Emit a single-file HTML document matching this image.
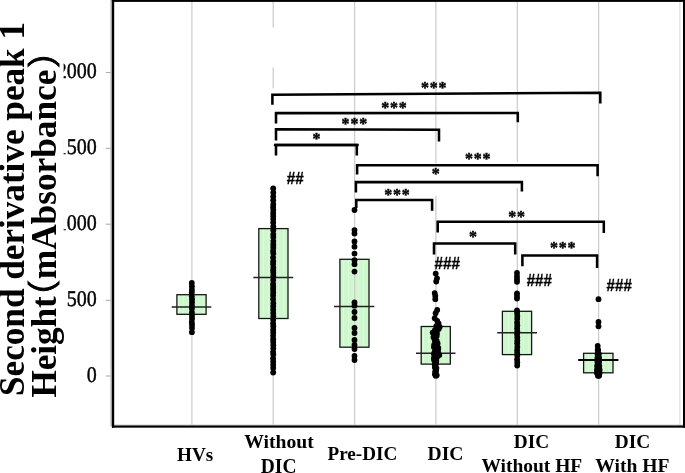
<!DOCTYPE html>
<html lang="en"><head><meta charset="utf-8"><title>Second derivative peak 1 height</title>
<style>html,body{margin:0;padding:0;background:#fff;}body{width:685px;height:473px;overflow:hidden;}svg{display:block;}text{font-family:"Liberation Serif","Noto Serif CJK SC",serif;fill:#000;}.b{font-weight:bold;}.pr{font-family:IPAGothic,"Noto Sans CJK JP",sans-serif;stroke:#000;stroke-width:1.0px;}.tk{stroke:#000;stroke-width:0.4px;text-rendering:geometricPrecision;}.hs{font-family:"Liberation Sans",sans-serif;stroke:#000;stroke-width:0.3px;}.st{stroke:#000;stroke-width:0.42px;stroke-linejoin:round;}</style></head><body>
<svg width="685" height="473" viewBox="0 0 685 473">
<defs><pattern id="st" width="5" height="4" patternUnits="userSpaceOnUse"><rect width="5" height="4" fill="#cef7ce"/><rect x="3" width="1.2" height="4" fill="#dafada"/></pattern></defs>
<rect width="685" height="473" fill="#fff"/>
<rect x="176.9" y="294.7" width="29.2" height="19.6" fill="url(#st)"/>
<rect x="258.8" y="228.6" width="29.2" height="89.9" fill="url(#st)"/>
<rect x="339.9" y="259.3" width="29.1" height="87.9" fill="url(#st)"/>
<rect x="421.2" y="326.5" width="29.1" height="37.6" fill="url(#st)"/>
<rect x="502.4" y="311.3" width="29.2" height="43.3" fill="url(#st)"/>
<rect x="583.6" y="353.3" width="29.4" height="19.5" fill="url(#st)"/>
<line x1="191.9" y1="2" x2="191.9" y2="425" stroke="#cdcdcd" stroke-width="1.25"/>
<line x1="273.2" y1="2" x2="273.2" y2="27.5" stroke="#cdcdcd" stroke-width="1.25"/>
<line x1="273.2" y1="67.2" x2="273.2" y2="88.5" stroke="#cdcdcd" stroke-width="1.25"/>
<line x1="273.2" y1="186" x2="273.2" y2="425" stroke="#cdcdcd" stroke-width="1.25"/>
<line x1="354.6" y1="2" x2="354.6" y2="425" stroke="#cdcdcd" stroke-width="1.25"/>
<line x1="435.9" y1="2" x2="435.9" y2="163.5" stroke="#cdcdcd" stroke-width="1.25"/>
<line x1="435.9" y1="196" x2="435.9" y2="425" stroke="#cdcdcd" stroke-width="1.25"/>
<line x1="517.3" y1="2" x2="517.3" y2="162.3" stroke="#cdcdcd" stroke-width="1.25"/>
<line x1="517.3" y1="188" x2="517.3" y2="425" stroke="#cdcdcd" stroke-width="1.25"/>
<line x1="598.6" y1="2" x2="598.6" y2="425" stroke="#cdcdcd" stroke-width="1.25"/>
<line x1="679.9" y1="2" x2="679.9" y2="425" stroke="#d8d8d8" stroke-width="1"/>
<rect x="176.9" y="294.7" width="29.2" height="19.6" fill="none" stroke="#161616" stroke-width="1.3"/>
<line x1="171.7" y1="307" x2="211.3" y2="307" stroke="#222" stroke-width="1.4"/>
<rect x="258.8" y="228.6" width="29.2" height="89.9" fill="none" stroke="#161616" stroke-width="1.3"/>
<line x1="253.3" y1="277.5" x2="293.2" y2="277.5" stroke="#222" stroke-width="1.4"/>
<rect x="339.9" y="259.3" width="29.1" height="87.9" fill="none" stroke="#161616" stroke-width="1.3"/>
<line x1="334" y1="306.5" x2="374.3" y2="306.5" stroke="#222" stroke-width="1.4"/>
<rect x="421.2" y="326.5" width="29.1" height="37.6" fill="none" stroke="#161616" stroke-width="1.3"/>
<line x1="416" y1="353.3" x2="455.5" y2="353.3" stroke="#222" stroke-width="1.4"/>
<rect x="502.4" y="311.3" width="29.2" height="43.3" fill="none" stroke="#161616" stroke-width="1.3"/>
<line x1="497.2" y1="332.8" x2="537" y2="332.8" stroke="#222" stroke-width="1.4"/>
<rect x="583.6" y="353.3" width="29.4" height="19.5" fill="none" stroke="#161616" stroke-width="1.3"/>
<line x1="578.2" y1="360.0" x2="618.4" y2="360.0" stroke="#000" stroke-width="2.0"/>
<rect x="110.4" y="0" width="1.6" height="426" fill="#b4b4b4"/>
<rect x="112" y="424.4" width="571" height="1.1" fill="#d2d2d2"/>
<rect x="111.9" y="0" width="2.3" height="427.7" fill="#000"/>
<rect x="111.9" y="0" width="573.1" height="1.9" fill="#000"/>
<rect x="683" y="0" width="2" height="427.7" fill="#000"/>
<rect x="111.9" y="425.45" width="573.1" height="2.2" fill="#000"/>
<line x1="105.8" y1="376" x2="111" y2="376" stroke="#b0b0b0" stroke-width="1.1"/>
<text class="tk" x="96.7" y="0" font-size="20" text-anchor="end" transform="translate(0,381.8) scale(1,1.12)">0</text>
<line x1="105.8" y1="300.4" x2="111" y2="300.4" stroke="#b0b0b0" stroke-width="1.1"/>
<text class="tk" x="96.7" y="0" font-size="20" text-anchor="end" transform="translate(0,306.2) scale(1,1.12)">500</text>
<line x1="105.8" y1="224.2" x2="111" y2="224.2" stroke="#b0b0b0" stroke-width="1.1"/>
<text class="tk" x="96.7" y="0" font-size="20" text-anchor="end" transform="translate(0,230.0) scale(1,1.12)">1000</text>
<line x1="105.8" y1="148.4" x2="111" y2="148.4" stroke="#b0b0b0" stroke-width="1.1"/>
<text class="tk" x="96.7" y="0" font-size="20" text-anchor="end" transform="translate(0,154.20000000000002) scale(1,1.12)">1500</text>
<line x1="105.8" y1="72.5" x2="111" y2="72.5" stroke="#b0b0b0" stroke-width="1.1"/>
<text class="tk" x="96.7" y="0" font-size="20" text-anchor="end" transform="translate(0,78.3) scale(1,1.12)">2000</text>
<g fill="#000">
<circle cx="191.8" cy="283.0" r="2.9"/>
<circle cx="191.9" cy="286.4" r="2.9"/>
<circle cx="191.9" cy="289.8" r="2.9"/>
<circle cx="191.8" cy="292.5" r="2.9"/>
<circle cx="191.8" cy="296.3" r="2.9"/>
<circle cx="192.0" cy="299.2" r="2.9"/>
<circle cx="192.0" cy="302.5" r="2.9"/>
<circle cx="191.9" cy="305.7" r="2.9"/>
<circle cx="191.9" cy="308.5" r="2.9"/>
<circle cx="191.9" cy="312.4" r="2.9"/>
<circle cx="192.0" cy="316.0" r="2.9"/>
<circle cx="192.0" cy="318.7" r="2.9"/>
<circle cx="191.8" cy="322.1" r="2.9"/>
<circle cx="192.0" cy="324.7" r="2.9"/>
<circle cx="192.0" cy="328.0" r="2.9"/>
<circle cx="191.9" cy="332.2" r="2.9"/>
<circle cx="273.2" cy="188.5" r="2.9"/>
<circle cx="273.3" cy="192.6" r="2.9"/>
<circle cx="273.2" cy="196.5" r="2.9"/>
<circle cx="273.2" cy="200.2" r="2.9"/>
<circle cx="273.3" cy="204.1" r="2.9"/>
<circle cx="273.1" cy="206.9" r="2.9"/>
<circle cx="273.3" cy="209.8" r="2.9"/>
<circle cx="273.2" cy="213.0" r="2.9"/>
<circle cx="273.2" cy="216.0" r="2.9"/>
<circle cx="273.2" cy="219.1" r="2.9"/>
<circle cx="273.2" cy="222.6" r="2.9"/>
<circle cx="273.3" cy="226.4" r="2.9"/>
<circle cx="273.3" cy="230.3" r="2.9"/>
<circle cx="273.3" cy="234.3" r="2.9"/>
<circle cx="273.3" cy="237.1" r="2.9"/>
<circle cx="273.3" cy="241.1" r="2.9"/>
<circle cx="273.3" cy="244.5" r="2.9"/>
<circle cx="273.3" cy="247.4" r="2.9"/>
<circle cx="273.1" cy="250.8" r="2.9"/>
<circle cx="273.3" cy="253.5" r="2.9"/>
<circle cx="273.1" cy="257.5" r="2.9"/>
<circle cx="273.2" cy="261.2" r="2.9"/>
<circle cx="273.1" cy="264.0" r="2.9"/>
<circle cx="273.3" cy="267.7" r="2.9"/>
<circle cx="273.2" cy="270.3" r="2.9"/>
<circle cx="273.3" cy="273.0" r="2.9"/>
<circle cx="273.3" cy="276.1" r="2.9"/>
<circle cx="273.2" cy="280.0" r="2.9"/>
<circle cx="273.1" cy="284.0" r="2.9"/>
<circle cx="273.2" cy="286.7" r="2.9"/>
<circle cx="273.1" cy="289.4" r="2.9"/>
<circle cx="273.2" cy="292.5" r="2.9"/>
<circle cx="273.1" cy="295.4" r="2.9"/>
<circle cx="273.1" cy="299.2" r="2.9"/>
<circle cx="273.3" cy="303.1" r="2.9"/>
<circle cx="273.2" cy="306.2" r="2.9"/>
<circle cx="273.2" cy="309.6" r="2.9"/>
<circle cx="273.2" cy="313.0" r="2.9"/>
<circle cx="273.3" cy="316.5" r="2.9"/>
<circle cx="273.2" cy="319.8" r="2.9"/>
<circle cx="273.1" cy="323.4" r="2.9"/>
<circle cx="273.3" cy="326.4" r="2.9"/>
<circle cx="273.2" cy="329.7" r="2.9"/>
<circle cx="273.2" cy="332.4" r="2.9"/>
<circle cx="273.1" cy="335.8" r="2.9"/>
<circle cx="273.2" cy="339.2" r="2.9"/>
<circle cx="273.2" cy="341.9" r="2.9"/>
<circle cx="273.3" cy="345.2" r="2.9"/>
<circle cx="273.3" cy="348.3" r="2.9"/>
<circle cx="273.1" cy="351.9" r="2.9"/>
<circle cx="273.3" cy="354.6" r="2.9"/>
<circle cx="273.1" cy="358.5" r="2.9"/>
<circle cx="273.2" cy="361.8" r="2.9"/>
<circle cx="273.2" cy="364.8" r="2.9"/>
<circle cx="273.2" cy="367.9" r="2.9"/>
<circle cx="273.2" cy="372.5" r="2.9"/>
<circle cx="354.5" cy="210.0" r="2.9"/>
<circle cx="354.5" cy="230.1" r="2.9"/>
<circle cx="354.5" cy="233.5" r="2.9"/>
<circle cx="354.5" cy="241.5" r="2.9"/>
<circle cx="354.5" cy="246.7" r="2.9"/>
<circle cx="354.5" cy="253.6" r="2.9"/>
<circle cx="354.5" cy="260.2" r="2.9"/>
<circle cx="354.5" cy="264.2" r="2.9"/>
<circle cx="354.5" cy="271.6" r="2.9"/>
<circle cx="354.5" cy="302.5" r="2.9"/>
<circle cx="354.5" cy="305.7" r="2.9"/>
<circle cx="354.5" cy="312.0" r="2.9"/>
<circle cx="354.5" cy="318.0" r="2.9"/>
<circle cx="354.5" cy="328.0" r="2.9"/>
<circle cx="354.5" cy="333.0" r="2.9"/>
<circle cx="354.5" cy="340.0" r="2.9"/>
<circle cx="354.5" cy="345.0" r="2.9"/>
<circle cx="354.5" cy="349.0" r="2.9"/>
<circle cx="354.5" cy="356.0" r="2.9"/>
<circle cx="354.5" cy="360.0" r="2.9"/>
<circle cx="435.7" cy="273.6" r="2.9"/>
<circle cx="437.0" cy="278.3" r="2.9"/>
<circle cx="436.2" cy="281.5" r="2.9"/>
<circle cx="434.7" cy="293.1" r="2.9"/>
<circle cx="435.3" cy="296.0" r="2.9"/>
<circle cx="435.3" cy="299.2" r="2.9"/>
<circle cx="437.2" cy="310.0" r="2.9"/>
<circle cx="435.6" cy="313.2" r="2.9"/>
<circle cx="434.7" cy="318.2" r="2.9"/>
<circle cx="437.2" cy="320.8" r="2.9"/>
<circle cx="438.5" cy="323.3" r="2.9"/>
<circle cx="436.3" cy="326.1" r="2.9"/>
<circle cx="439.7" cy="327.0" r="2.9"/>
<circle cx="438.0" cy="327.5" r="2.9"/>
<circle cx="434.9" cy="330.1" r="2.9"/>
<circle cx="438.6" cy="328.9" r="2.9"/>
<circle cx="436.8" cy="330.5" r="2.9"/>
<circle cx="432.7" cy="332.6" r="2.9"/>
<circle cx="436.9" cy="333.5" r="2.9"/>
<circle cx="434.8" cy="334.0" r="2.9"/>
<circle cx="433.5" cy="337.2" r="2.9"/>
<circle cx="436.7" cy="336.0" r="2.9"/>
<circle cx="435.1" cy="337.6" r="2.9"/>
<circle cx="434.7" cy="340.1" r="2.9"/>
<circle cx="436.7" cy="341.0" r="2.9"/>
<circle cx="435.7" cy="341.5" r="2.9"/>
<circle cx="434.2" cy="344.6" r="2.9"/>
<circle cx="437.6" cy="343.4" r="2.9"/>
<circle cx="435.9" cy="345.0" r="2.9"/>
<circle cx="433.9" cy="347.1" r="2.9"/>
<circle cx="438.3" cy="348.0" r="2.9"/>
<circle cx="436.1" cy="348.5" r="2.9"/>
<circle cx="434.7" cy="351.6" r="2.9"/>
<circle cx="438.1" cy="350.4" r="2.9"/>
<circle cx="436.4" cy="352.0" r="2.9"/>
<circle cx="433.9" cy="354.0" r="2.9"/>
<circle cx="439.3" cy="354.9" r="2.9"/>
<circle cx="436.6" cy="355.4" r="2.9"/>
<circle cx="433.9" cy="358.1" r="2.9"/>
<circle cx="437.1" cy="356.9" r="2.9"/>
<circle cx="435.5" cy="358.5" r="2.9"/>
<circle cx="434.1" cy="360.1" r="2.9"/>
<circle cx="436.3" cy="361.0" r="2.9"/>
<circle cx="435.2" cy="361.5" r="2.9"/>
<circle cx="434.7" cy="364.6" r="2.9"/>
<circle cx="436.1" cy="363.4" r="2.9"/>
<circle cx="435.4" cy="365.0" r="2.9"/>
<circle cx="434.9" cy="367.2" r="2.9"/>
<circle cx="436.4" cy="368.1" r="2.9"/>
<circle cx="435.6" cy="368.6" r="2.9"/>
<circle cx="435.2" cy="371.6" r="2.9"/>
<circle cx="436.1" cy="370.4" r="2.9"/>
<circle cx="435.6" cy="372.0" r="2.9"/>
<circle cx="434.9" cy="374.3" r="2.9"/>
<circle cx="436.7" cy="375.2" r="2.9"/>
<circle cx="435.8" cy="375.7" r="2.9"/>
<circle cx="435.8" cy="375.4" r="2.9"/>
<circle cx="517.0" cy="273.0" r="2.9"/>
<circle cx="517.0" cy="276.5" r="2.9"/>
<circle cx="517.0" cy="279.5" r="2.9"/>
<circle cx="517.0" cy="281.8" r="2.9"/>
<circle cx="517.0" cy="293.3" r="2.9"/>
<circle cx="517.0" cy="296.0" r="2.9"/>
<circle cx="517.0" cy="298.5" r="2.9"/>
<circle cx="517.0" cy="310.5" r="2.9"/>
<circle cx="517.1" cy="313.0" r="2.9"/>
<circle cx="517.3" cy="316.1" r="2.9"/>
<circle cx="517.2" cy="318.8" r="2.9"/>
<circle cx="517.1" cy="322.4" r="2.9"/>
<circle cx="517.3" cy="325.3" r="2.9"/>
<circle cx="517.1" cy="328.2" r="2.9"/>
<circle cx="517.3" cy="331.5" r="2.9"/>
<circle cx="517.1" cy="334.2" r="2.9"/>
<circle cx="517.3" cy="337.3" r="2.9"/>
<circle cx="517.3" cy="340.5" r="2.9"/>
<circle cx="517.2" cy="343.3" r="2.9"/>
<circle cx="517.3" cy="346.8" r="2.9"/>
<circle cx="517.1" cy="350.1" r="2.9"/>
<circle cx="517.2" cy="352.8" r="2.9"/>
<circle cx="517.3" cy="355.7" r="2.9"/>
<circle cx="517.1" cy="359.5" r="2.9"/>
<circle cx="517.3" cy="362.5" r="2.9"/>
<circle cx="517.2" cy="365.5" r="2.9"/>
<circle cx="598.5" cy="299.2" r="2.9"/>
<circle cx="598.5" cy="322.0" r="2.9"/>
<circle cx="598.5" cy="326.3" r="2.9"/>
<circle cx="597.7" cy="346.0" r="2.9"/>
<circle cx="597.7" cy="350.0" r="2.9"/>
<circle cx="598.1" cy="350.0" r="2.9"/>
<circle cx="597.5" cy="354.0" r="2.9"/>
<circle cx="598.9" cy="354.0" r="2.9"/>
<circle cx="597.4" cy="358.0" r="2.9"/>
<circle cx="599.1" cy="358.0" r="2.9"/>
<circle cx="597.4" cy="362.0" r="2.9"/>
<circle cx="599.1" cy="362.0" r="2.9"/>
<circle cx="597.1" cy="366.0" r="2.9"/>
<circle cx="599.3" cy="366.0" r="2.9"/>
<circle cx="596.9" cy="370.0" r="2.9"/>
<circle cx="599.6" cy="370.0" r="2.9"/>
<circle cx="596.9" cy="373.0" r="2.9"/>
<circle cx="599.6" cy="373.0" r="2.9"/>
<circle cx="597.9" cy="375.8" r="2.9"/>
<circle cx="599.1" cy="375.8" r="2.9"/>
</g>
<polyline points="272.4,104.8 272.4,94.8 600.3,92.7 600.3,103.4" fill="none" stroke="#000" stroke-width="2.55" stroke-linejoin="miter"/>
<polyline points="276,123.5 276,113.1 517.8,113.0 517.8,122.2" fill="none" stroke="#000" stroke-width="2.55" stroke-linejoin="miter"/>
<polyline points="276,140.4 276,129.2 439,129.7 439,141.5" fill="none" stroke="#000" stroke-width="2.55" stroke-linejoin="miter"/>
<polyline points="276,155.5 276,144.9 356.8,144.9 356.8,155.5" fill="none" stroke="#000" stroke-width="2.55" stroke-linejoin="miter"/>
<line x1="273.9" y1="144.9" x2="358.7" y2="144.9" stroke="#000" stroke-width="2.55"/>
<polyline points="357.1,174.5 357.1,165.2 597.6,165.2 597.6,176.2" fill="none" stroke="#000" stroke-width="2.55" stroke-linejoin="miter"/>
<polyline points="355.9,192.6 355.9,182.1 521.9,182.1 521.9,191.5" fill="none" stroke="#000" stroke-width="2.55" stroke-linejoin="miter"/>
<polyline points="356.3,208 356.3,199.9 432.1,199.9 432.1,210.8" fill="none" stroke="#000" stroke-width="2.55" stroke-linejoin="miter"/>
<polyline points="437.7,232.6 437.7,221.8 603.8,221.8 603.8,233" fill="none" stroke="#000" stroke-width="2.55" stroke-linejoin="miter"/>
<polyline points="434,254.5 434,243.5 515.2,243.5 515.2,254.5" fill="none" stroke="#000" stroke-width="2.55" stroke-linejoin="miter"/>
<polyline points="522.4,266.2 522.4,255.4 597.1,255.4 597.1,268" fill="none" stroke="#000" stroke-width="2.55" stroke-linejoin="miter"/>
<text class="b st" x="425.0 433.8 442.6" y="93.19999999999999" font-size="16.0" text-anchor="middle">***</text>
<text class="b st" x="385.2 394.0 402.8" y="113.3" font-size="16.0" text-anchor="middle">***</text>
<text class="b st" x="345.6 354.4 363.2" y="128.8" font-size="16.0" text-anchor="middle">***</text>
<text class="b st" x="316.4" y="144.4" font-size="16.0" text-anchor="middle">*</text>
<text class="b st" x="468.9 477.7 486.5" y="164.2" font-size="16.0" text-anchor="middle">***</text>
<text class="b st" x="435.8" y="179.4" font-size="16.0" text-anchor="middle">*</text>
<text class="b st" x="388.2 397.0 405.8" y="199.9" font-size="16.0" text-anchor="middle">***</text>
<text class="b st" x="512.3 521.1" y="222.1" font-size="16.0" text-anchor="middle">**</text>
<text class="b st" x="472.9" y="242.2" font-size="16.0" text-anchor="middle">*</text>
<text class="b st" x="553.9 562.7 571.5" y="253.1" font-size="16.0" text-anchor="middle">***</text>
<text class="b hs" x="286.7" y="184.3" font-size="16" textLength="16.9" lengthAdjust="spacingAndGlyphs">##</text>
<text class="b hs" x="434.4" y="268.8" font-size="16" textLength="25.5" lengthAdjust="spacingAndGlyphs">###</text>
<text class="b hs" x="526.6999999999999" y="285.7" font-size="16" textLength="25.2" lengthAdjust="spacingAndGlyphs">###</text>
<text class="b hs" x="606.6" y="291.3" font-size="16" textLength="25.2" lengthAdjust="spacingAndGlyphs">###</text>
<text class="b" x="177.1" y="460.7" font-size="19.3" textLength="36.2" lengthAdjust="spacingAndGlyphs">HVs</text>
<text class="b" x="244.2" y="448.4" font-size="19.3" textLength="69.5" lengthAdjust="spacingAndGlyphs">Without</text>
<text class="b" x="260.8" y="473.1" font-size="20.3" textLength="35.7" lengthAdjust="spacingAndGlyphs">DIC</text>
<text class="b" x="327.5" y="460.4" font-size="19.3" textLength="69.9" lengthAdjust="spacingAndGlyphs">Pre-DIC</text>
<text class="b" x="427.6" y="459.7" font-size="19.3" textLength="35.9" lengthAdjust="spacingAndGlyphs">DIC</text>
<text class="b" x="513.7" y="448.0" font-size="19.3" textLength="35.4" lengthAdjust="spacingAndGlyphs">DIC</text>
<text class="b" x="481.4" y="472.1" font-size="19.3" textLength="100.9" lengthAdjust="spacingAndGlyphs">Without HF</text>
<text class="b" x="614.7" y="448.0" font-size="19.3" textLength="35.4" lengthAdjust="spacingAndGlyphs">DIC</text>
<text class="b" x="595.3" y="472.1" font-size="19.3" textLength="74.2" lengthAdjust="spacingAndGlyphs">With HF</text>
<rect x="0" y="10" width="63.6" height="400" fill="#fff"/>
<g transform="translate(24.2,396) rotate(-90)"><text class="b" x="0" y="0" font-size="35" textLength="374" lengthAdjust="spacingAndGlyphs">Second derivative peak 1</text></g>
<g transform="translate(55.9,397.6) rotate(-90)"><text class="b" x="0" y="0" font-size="35" textLength="101.4" lengthAdjust="spacingAndGlyphs">Height</text><text class="pr" x="101.6" y="0.9" font-size="34">(</text><text class="b" x="118.4" y="0" font-size="35" textLength="209.6" lengthAdjust="spacingAndGlyphs">mAbsorbance</text><text class="pr" x="328.6" y="0.9" font-size="34">)</text></g>
</svg></body></html>
